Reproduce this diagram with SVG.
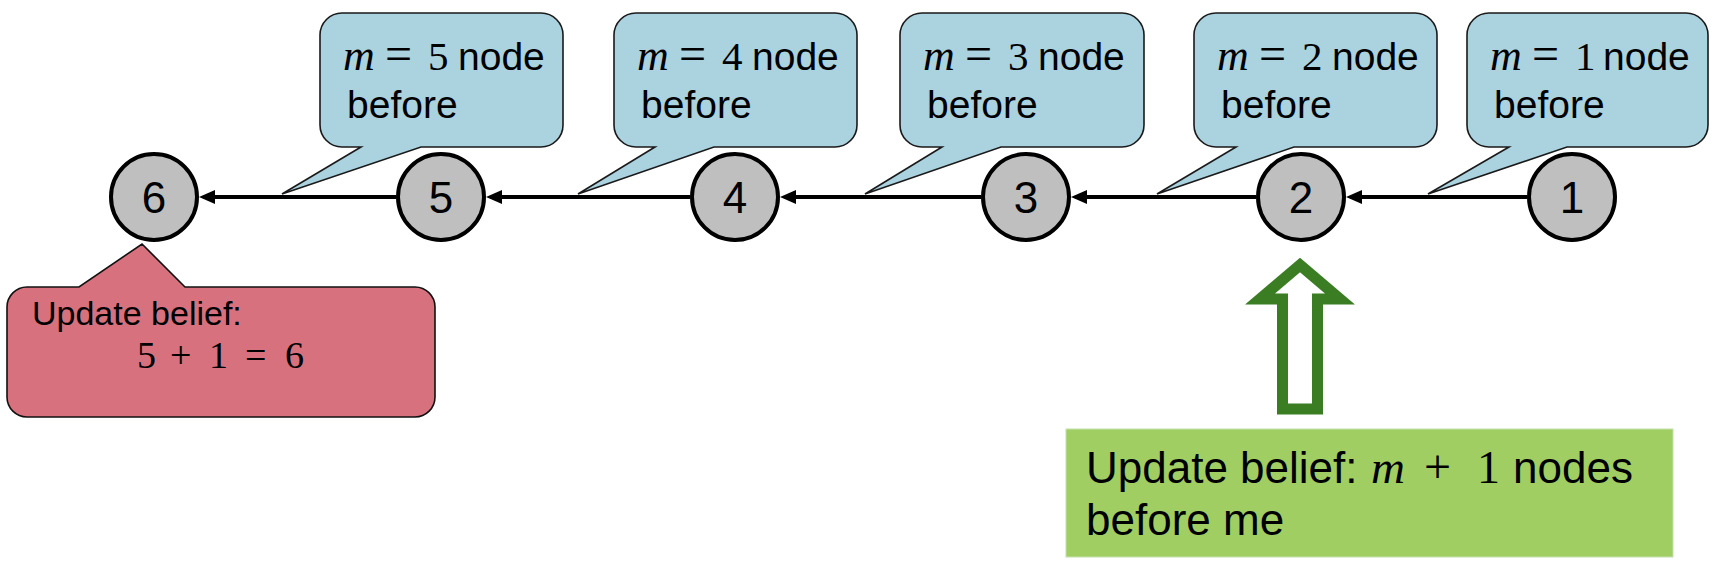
<svg xmlns="http://www.w3.org/2000/svg" width="1720" height="564" viewBox="0 0 1720 564">
<style>
.call{fill:#ABD2DF;stroke:#1a1a1a;stroke-width:1.6}
.node circle{fill:#BFBFBF;stroke:#000;stroke-width:4}
.nl{font-family:"Liberation Sans",Arial,sans-serif;font-size:44px;text-anchor:middle;fill:#000}
.ct{font-family:"Liberation Sans",Arial,sans-serif;font-size:39px;fill:#000}
.eq{font-family:"Liberation Serif","DejaVu Serif",serif;font-size:48px}
.dg{font-family:"Liberation Serif","DejaVu Serif",serif;font-size:41px}
.mi{font-family:"Liberation Serif","DejaVu Serif",serif;font-style:italic;font-size:44px}
.edge{stroke:#000;stroke-width:4;fill:none}
</style>
<defs>
<marker id="ah" viewBox="0 0 16 14" refX="6" refY="7" markerWidth="16" markerHeight="14" markerUnits="userSpaceOnUse" orient="auto">
<path d="M0,0 L16,7 L0,14 Z" fill="#000"/>
</marker>
</defs>
<rect width="1720" height="564" fill="#fff"/>

<g id="connectors">
<line class="edge" x1="396" y1="197" x2="209" y2="197" marker-end="url(#ah)"/>
<line class="edge" x1="690" y1="197" x2="496" y2="197" marker-end="url(#ah)"/>
<line class="edge" x1="981" y1="197" x2="790" y2="197" marker-end="url(#ah)"/>
<line class="edge" x1="1256" y1="197" x2="1081" y2="197" marker-end="url(#ah)"/>
<line class="edge" x1="1527" y1="197" x2="1356" y2="197" marker-end="url(#ah)"/>
</g>

<g id="callout5">
<path class="call" d="M342,13 H541 A22,22 0 0 1 563,35 V125 A22,22 0 0 1 541,147 H421 L282,194 L361,147 H342 A22,22 0 0 1 320,125 V35 A22,22 0 0 1 342,13 Z"/>
<text class="ct" y="70"><tspan class="mi" x="343">m</tspan><tspan class="eq" x="385">=</tspan><tspan class="dg" x="428">5</tspan><tspan x="458">node</tspan></text>
<text class="ct" x="347" y="118">before</text>
</g>
<g id="callout4">
<path class="call" d="M636,13 H835 A22,22 0 0 1 857,35 V125 A22,22 0 0 1 835,147 H714 L578,194 L655,147 H636 A22,22 0 0 1 614,125 V35 A22,22 0 0 1 636,13 Z"/>
<text class="ct" y="70"><tspan class="mi" x="637">m</tspan><tspan class="eq" x="679">=</tspan><tspan class="dg" x="722">4</tspan><tspan x="752">node</tspan></text>
<text class="ct" x="641" y="118">before</text>
</g>
<g id="callout3">
<path class="call" d="M922,13 H1122 A22,22 0 0 1 1144,35 V125 A22,22 0 0 1 1122,147 H1001 L865,194 L942,147 H922 A22,22 0 0 1 900,125 V35 A22,22 0 0 1 922,13 Z"/>
<text class="ct" y="70"><tspan class="mi" x="923">m</tspan><tspan class="eq" x="965">=</tspan><tspan class="dg" x="1008">3</tspan><tspan x="1038">node</tspan></text>
<text class="ct" x="927" y="118">before</text>
</g>
<g id="callout2">
<path class="call" d="M1216,13 H1415 A22,22 0 0 1 1437,35 V125 A22,22 0 0 1 1415,147 H1294 L1157,194 L1236,147 H1216 A22,22 0 0 1 1194,125 V35 A22,22 0 0 1 1216,13 Z"/>
<text class="ct" y="70"><tspan class="mi" x="1217">m</tspan><tspan class="eq" x="1259">=</tspan><tspan class="dg" x="1302">2</tspan><tspan x="1332">node</tspan></text>
<text class="ct" x="1221" y="118">before</text>
</g>
<g id="callout1">
<path class="call" d="M1489,13 H1686 A22,22 0 0 1 1708,35 V125 A22,22 0 0 1 1686,147 H1567 L1428,194 L1509,147 H1489 A22,22 0 0 1 1467,125 V35 A22,22 0 0 1 1489,13 Z"/>
<text class="ct" y="70"><tspan class="mi" x="1490">m</tspan><tspan class="eq" x="1532">=</tspan><tspan class="dg" x="1575">1</tspan><tspan x="1603">node</tspan></text>
<text class="ct" x="1494" y="118">before</text>
</g>

<g id="node6" class="node"><circle cx="154" cy="197" r="43"/><text class="nl" x="154" y="213">6</text></g>
<g id="node5" class="node"><circle cx="441" cy="197" r="43"/><text class="nl" x="441" y="213">5</text></g>
<g id="node4" class="node"><circle cx="735" cy="197" r="43"/><text class="nl" x="735" y="213">4</text></g>
<g id="node3" class="node"><circle cx="1026" cy="197" r="43"/><text class="nl" x="1026" y="213">3</text></g>
<g id="node2" class="node"><circle cx="1301" cy="197" r="43"/><text class="nl" x="1301" y="213">2</text></g>
<g id="node1" class="node"><circle cx="1572" cy="197" r="43"/><text class="nl" x="1572" y="213">1</text></g>

<g id="red-callout">
<path d="M27,287 H79 L142,244 L185,287 H415 A20,20 0 0 1 435,307 V397 A20,20 0 0 1 415,417 H27 A20,20 0 0 1 7,397 V307 A20,20 0 0 1 27,287 Z" fill="#D7717E" stroke="#111" stroke-width="1.6"/>
<text x="32" y="325" font-family="'Liberation Sans',Arial,sans-serif" font-size="34" fill="#000">Update belief:</text>
<text y="368" font-family="'Liberation Serif','DejaVu Serif',serif" font-size="38" fill="#000"><tspan x="137">5</tspan><tspan x="170">+</tspan><tspan x="209">1</tspan><tspan x="245">=</tspan><tspan x="285">6</tspan></text>
</g>

<g id="green-arrow">
<path d="M1300,265 L1340,299 H1317.5 V409 H1282.5 V299 H1260 Z" fill="#fff" stroke="#3A7D23" stroke-width="11" stroke-miterlimit="10"/>
</g>

<g id="green-box">
<rect x="1066" y="429" width="607" height="128" fill="#A0CE63" stroke="#C6E0B0" stroke-width="1"/>
<text y="483" font-family="'Liberation Sans',Arial,sans-serif" font-size="44" fill="#000"><tspan x="1086">Update belief:</tspan><tspan x="1371" font-family="'Liberation Serif','DejaVu Serif',serif" font-style="italic" font-size="47">m</tspan><tspan x="1424" font-family="'Liberation Serif','DejaVu Serif',serif" font-size="48">+</tspan><tspan x="1477" font-family="'Liberation Serif','DejaVu Serif',serif" font-size="46">1</tspan><tspan x="1513">nodes</tspan></text>
<text x="1086" y="535" font-family="'Liberation Sans',Arial,sans-serif" font-size="44" fill="#000">before me</text>
</g>
</svg>
